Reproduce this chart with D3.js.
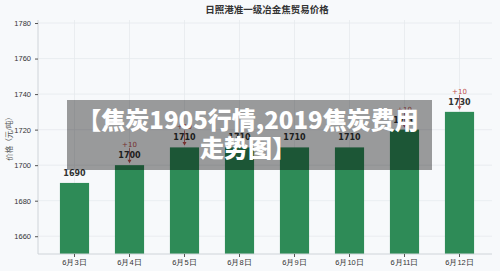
<!DOCTYPE html>
<html>
<head>
<meta charset="utf-8">
<script src="https://cdn.jsdelivr.net/npm/d3@7"></script>
<style>
	body { margin: 0; background: #f7f9fb; }
	svg { display: block; font-family: "DejaVu Sans", "Noto Sans CJK SC", sans-serif; }
</style>
</head>
<body>
<svg id="chart" width="500" height="271"></svg>
<script>
/* Data */
const dates = ['6月3日', '6月4日', '6月5日', '6月8日', '6月9日', '6月10日', '6月11日', '6月12日'];
const prices = [1690, 1700, 1710, 1710, 1710, 1710, 1720, 1730];
const changes = [0, 10, 10, 0, 0, 0, 10, 10];
const yTicks = [1660, 1680, 1700, 1720, 1740, 1760, 1780];
const title = '日照港准一级冶金焦贸易价格';
const yLabel = '价格（元/吨）';
const bannerLines = ['【焦炭1905行情,2019焦炭费用', '走势图】'];

const svg = d3.select('#chart');
const plot = { left: 38, right: 492, top: 20, bottom: 254 };

const x = d3.scaleBand()
	.domain(dates)
	.range([47, 487])
	.paddingInner(0.47)
	.paddingOuter(0.235);

const y = d3.scaleLinear()
	.domain([1650, 1781.7])
	.range([plot.bottom, plot.top]);

// grid
const grid = svg.append('g');
grid.selectAll('.hg').data(yTicks).join('line')
	.attr('x1', plot.left).attr('x2', plot.right)
	.attr('y1', d => y(d)).attr('y2', d => y(d))
	.attr('stroke', '#e6eaee').attr('stroke-width', 0.8);
grid.selectAll('.vg').data(dates).join('line')
	.attr('x1', d => x(d) + x.bandwidth() / 2).attr('x2', d => x(d) + x.bandwidth() / 2)
	.attr('y1', plot.top).attr('y2', plot.bottom)
	.attr('stroke', '#e6eaee').attr('stroke-width', 0.8);

// bars
svg.append('g').selectAll('rect').data(prices).join('rect')
	.attr('x', (d, i) => x(dates[i]))
	.attr('width', x.bandwidth())
	.attr('y', d => y(d))
	.attr('height', d => plot.bottom - y(d))
	.attr('fill', '#2e8b57');

// axes
const yAxis = svg.append('g')
	.attr('transform', `translate(${plot.left},0)`)
	.call(d3.axisLeft(y).tickValues(yTicks).tickFormat(d3.format('d')).tickSize(3).tickPadding(4));
const xAxis = svg.append('g')
	.attr('transform', `translate(0,${plot.bottom})`)
	.call(d3.axisBottom(x).tickSize(3).tickPadding(3));
xAxis.select('.domain').attr('d', `M${plot.left},0H${plot.right}`);
yAxis.select('.domain').attr('d', `M0,${plot.top}V${plot.bottom}`);
[xAxis, yAxis].forEach(a => {
	a.select('.domain').attr('stroke', '#cfd4d9');
	a.selectAll('.tick line').attr('stroke', '#555');
	a.selectAll('.tick text').attr('fill', '#333').style('font-size', '7.5px');
});

// value labels
const labels = svg.append('g');
labels.selectAll('.val').data(prices).join('text')
	.attr('x', (d, i) => x(dates[i]) + x.bandwidth() / 2)
	.attr('y', d => y(d) - 7)
	.attr('text-anchor', 'middle')
	.attr('font-size', '8px')
	.attr('font-weight', 'bold')
	.attr('fill', '#333')
	.text(d => d);

// change annotations
const up = prices.map((d, i) => ({ v: d, c: changes[i], date: dates[i] })).filter(d => d.c);
const ann = svg.append('g').attr('fill', '#c0504d').attr('stroke', '#c0504d');
ann.selectAll('line').data(up).join('line')
	.attr('x1', d => x(d.date) + x.bandwidth() / 2).attr('x2', d => x(d.date) + x.bandwidth() / 2)
	.attr('y1', d => y(d.v) - 17).attr('y2', d => y(d.v) - 3)
	.attr('stroke-width', 0.8);
ann.selectAll('path').data(up).join('path')
	.attr('d', d => {
		const cx = x(d.date) + x.bandwidth() / 2, cy = y(d.v) - 2;
		return `M${cx},${cy}l-2,-3.5h4z`;
	})
	.attr('stroke', 'none');
ann.selectAll('text').data(up).join('text')
	.attr('x', d => x(d.date) + x.bandwidth() / 2)
	.attr('y', d => y(d.v) - 18)
	.attr('text-anchor', 'middle')
	.attr('font-size', '7px')
	.attr('stroke', 'none')
	.text(d => '+' + d.c);
// value labels sit over the arrows
labels.raise();

// title and y label
svg.append('text')
	.attr('x', 267).attr('y', 13)
	.attr('text-anchor', 'middle')
	.attr('font-size', '9.5px')
	.attr('font-weight', 'bold')
	.attr('fill', '#333')
	.text(title);
svg.append('text')
	.attr('transform', `translate(12,${(plot.top + plot.bottom) / 2}) rotate(-90)`)
	.attr('text-anchor', 'middle')
	.attr('font-size', '7.5px')
	.attr('fill', '#555')
	.text(yLabel);

// overlay banner
svg.append('rect')
	.attr('x', 67).attr('y', 100).attr('width', 365).attr('height', 70)
	.attr('fill', '#000').attr('opacity', 0.38);
svg.append('g').selectAll('text').data(bannerLines).join('text')
	.attr('x', 248).attr('y', (d, i) => 129 + i * 28)
	.attr('text-anchor', 'middle')
	.attr('font-family', '"Noto Sans CJK SC", sans-serif')
	.attr('font-size', '24px')
	.attr('font-weight', 900)
	.attr('fill', '#fff')
	.text(d => d);
</script>
</body>
</html>
